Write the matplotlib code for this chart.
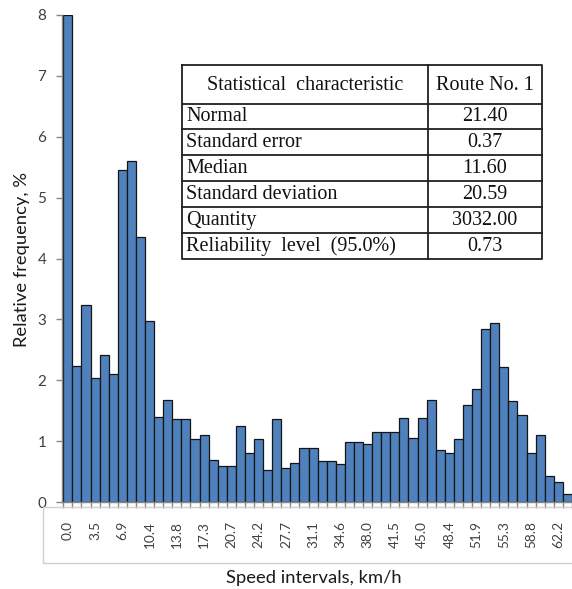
import matplotlib
matplotlib.use("Agg")
import matplotlib.pyplot as plt
from matplotlib.patches import Rectangle

# Relative frequency (%) of each 1.15 km/h speed interval
freq = [8.00, 2.24, 3.23, 2.04, 2.41, 2.10, 5.46, 5.60, 4.35, 2.98,
        1.39, 1.68, 1.36, 1.36, 1.03, 1.10, 0.69, 0.59, 0.59, 1.25,
        0.80, 1.03, 0.53, 1.36, 0.56, 0.64, 0.89, 0.89, 0.67, 0.67,
        0.63, 0.98, 0.98, 0.96, 1.15, 1.15, 1.15, 1.38, 1.05, 1.38,
        1.67, 0.86, 0.80, 1.03, 1.59, 1.85, 2.84, 2.94, 2.21, 1.66,
        1.43, 0.81, 1.10, 0.42, 0.33, 0.13]

# Category labels shown for every third interval
speed_labels = ["0.0", "3.5", "6.9", "10.4", "13.8", "17.3", "20.7", "24.2",
                "27.7", "31.1", "34.6", "38.0", "41.5", "45.0", "48.4",
                "51.9", "55.3", "58.8", "62.2"]
label_step = 3

y_ticks = [0, 1, 2, 3, 4, 5, 6, 7, 8]

# Summary statistics table
table_header = ["Statistical  characteristic", "Route No. 1"]
stat_names = ["Normal", "Standard error", "Median", "Standard deviation",
              "Quantity", "Reliability  level  (95.0%)"]
stat_values = ["21.40", "0.37", "11.60", "20.59", "3032.00", "0.73"]

W, H = 572, 589
fig = plt.figure(figsize=(W / 100, H / 100), dpi=100)
fig.patch.set_facecolor("white")

sans = ["Lato", "DejaVu Sans"]
serif = ["Liberation Serif", "DejaVu Serif"]
axis_grey = "#868686"
text_grey = "#404040"

# Light frame around the category label band
fig.patches.append(Rectangle((43 / W, 1 - 563 / H), (W + 5 - 43) / W, (563 - 507) / H,
                             transform=fig.transFigure, fill=False,
                             edgecolor="#d0d0d0", linewidth=1.0, zorder=0))

ax = fig.add_axes([61.7 / W, (H - 502) / H, (W - 61.7) / W, 487 / H])
x = list(range(len(freq)))
ax.bar(x, freq, width=1.0, color="#4F81BD", edgecolor="#151515",
       linewidth=0.9, zorder=2)

ax.set_xlim(-0.675, 55.06)
ax.set_ylim(0, 8)

for side in ("top", "right"):
    ax.spines[side].set_visible(False)
for side in ("left", "bottom"):
    ax.spines[side].set_color(axis_grey)
    ax.spines[side].set_linewidth(1.0)

# Tick marks on every interval boundary, labels on every third interval
ax.set_xticks([i - 0.5 for i in range(len(freq) + 1)])
ax.set_xticklabels([])
ax.set_xticks([i * label_step for i in range(len(speed_labels))],
              speed_labels, minor=True)
ax.tick_params(axis="x", which="major", direction="out", length=4,
               width=1, color=axis_grey)
ax.tick_params(axis="x", which="minor", length=0, pad=13.5,
               labelrotation=90, labelsize=9.8, labelcolor=text_grey)
for lab in ax.get_xticklabels(minor=True):
    lab.set_family(sans)

ax.set_yticks(y_ticks)
ax.tick_params(axis="y", direction="out", length=4, width=1,
               color=axis_grey, pad=7, labelsize=11, labelcolor=text_grey)
for lab in ax.get_yticklabels():
    lab.set_family(sans)

fig.text(22 / W, 1 - 260 / H, "Relative frequency, %", rotation=90,
         ha="center", va="center", fontsize=13.2, family=sans, color="#1a1a1a")
fig.text(314 / W, 1 - 578 / H, "Speed intervals, km/h",
         ha="center", va="center", fontsize=13.2, family=sans, color="#1a1a1a")

# Statistics table drawn in pixel coordinates
tab = fig.add_axes([0, 0, 1, 1], zorder=5)
tab.set_xlim(0, W)
tab.set_ylim(H, 0)
tab.axis("off")
tab.patch.set_alpha(0)

left, mid, right = 182, 428, 542
top, head_bottom = 64.5, 103.5
row_h = 25.9
bottom = head_bottom + row_h * len(stat_names)
tab.add_patch(Rectangle((left, top), right - left, bottom - top,
                        facecolor="white", edgecolor="none", zorder=1))
line_kw = dict(color="#202020", linewidth=1.3, zorder=3, solid_capstyle="projecting")
tab.plot([left, right, right, left, left], [top, top, bottom, bottom, top], **line_kw)
tab.plot([mid, mid], [top, bottom], **line_kw)
tab.plot([left, right], [head_bottom, head_bottom], **line_kw)
for r in range(1, len(stat_names)):
    yy = head_bottom + r * row_h
    tab.plot([left, right], [yy, yy], **line_kw)

fs = 14.5
tab.text((left + mid) / 2, (top + head_bottom) / 2 + 1, table_header[0],
         ha="center", va="center", fontsize=fs, family=serif, color="#111111", zorder=4)
tab.text((mid + right) / 2, (top + head_bottom) / 2 + 1, table_header[1],
         ha="center", va="center", fontsize=fs, family=serif, color="#111111", zorder=4)
for r, (name, val) in enumerate(zip(stat_names, stat_values)):
    yc = head_bottom + (r + 0.5) * row_h + 0.5
    tab.text(left + 4, yc, name, ha="left", va="center", fontsize=fs,
             family=serif, color="#111111", zorder=4)
    tab.text((mid + right) / 2, yc, val, ha="center", va="center", fontsize=fs,
             family=serif, color="#111111", zorder=4)

fig.savefig("out.png", dpi=100)
